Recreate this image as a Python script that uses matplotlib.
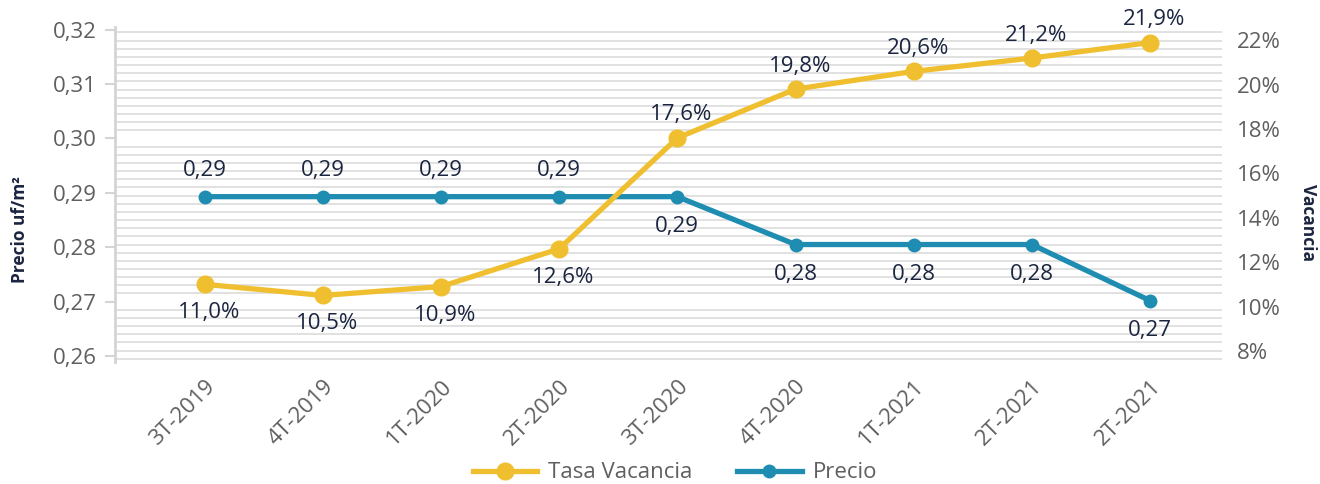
import matplotlib
matplotlib.use("Agg")
import matplotlib.pyplot as plt
from matplotlib.ticker import MultipleLocator, FuncFormatter
from matplotlib.lines import Line2D

categories = ["3T-2019", "4T-2019", "1T-2020", "2T-2020", "3T-2020",
              "4T-2020", "1T-2021", "2T-2021", "2T-2021"]
vacancia = [11.0, 10.5, 10.9, 12.6, 17.6, 19.8, 20.6, 21.2, 21.9]
precio = [0.2893, 0.2893, 0.2893, 0.2893, 0.2893, 0.2805, 0.2805, 0.2805, 0.2702]
left_ticks = [0.26, 0.27, 0.28, 0.29, 0.30, 0.31, 0.32]
right_ticks = [8, 10, 12, 14, 16, 18, 20, 22]

YELLOW = "#F0BF2F"
BLUE = "#1E8DB1"
NAVY = "#1B2540"
GRAY_TXT = "#5f5f5f"
GRID = "#dedede"

plt.rcParams['font.family'] = ['Open Sans', 'DejaVu Sans']

fig = plt.figure(figsize=(13.2, 4.84), dpi=100)
ax = fig.add_axes([115/1320, 1-362/484, (1222-115)/1320, (362-27)/484])
ax2 = ax.twinx()

x = list(range(len(categories)))

ax.set_ylim(0.2589, 0.3205)
ax.set_xlim(-0.76, 8.61)
ax2.set_ylim(7.5, 22.6)

ax.set_yticks(left_ticks)
ax.yaxis.set_major_formatter(FuncFormatter(lambda v, p: f"{v:.2f}".replace(".", ",")))
ax.yaxis.set_minor_locator(MultipleLocator(0.0015))
ax.grid(True, which='minor', axis='y', color=GRID, linewidth=1.3)
ax.grid(False, which='major')
ax.tick_params(axis='y', which='minor', length=0)
ax.tick_params(axis='y', which='major', length=7, width=1.5, color="#d4d4d4",
               labelsize=16, labelcolor=GRAY_TXT, pad=6)
for s in ['top', 'right', 'bottom']:
    ax.spines[s].set_visible(False)
ax.spines['left'].set_color("#d4d4d4")
ax.spines['left'].set_linewidth(2)

ax.set_xticks(x)
ax.set_xticklabels(categories, rotation=45, ha='right', va='top',
                   rotation_mode='anchor', fontsize=16, color=GRAY_TXT)
ax.tick_params(axis='x', length=0, pad=10)

ax2.set_yticks(right_ticks)
ax2.yaxis.set_major_formatter(FuncFormatter(lambda v, p: f"{v:.0f}%"))
ax2.tick_params(axis='y', length=0, labelsize=16, labelcolor=GRAY_TXT, pad=11)
for s in ax2.spines.values():
    s.set_visible(False)

ax.plot(x, precio, color=BLUE, linewidth=3.8, marker='o', markersize=9,
        solid_capstyle='round', zorder=3)
ax2.plot(x, vacancia, color=YELLOW, linewidth=3.8, marker='o', markersize=12,
         solid_capstyle='round', zorder=3)

# Data labels
precio_pos = ['above'] * 4 + ['below'] * 5
for xi, v, pos in zip(x, precio, precio_pos):
    dy = 11 if pos == 'above' else -14
    ax.annotate(f"{v:.2f}".replace(".", ","), (xi, v), xytext=(0, dy),
                textcoords='offset points', ha='center',
                va='bottom' if pos == 'above' else 'top',
                fontsize=16, color=NAVY)

vac_pos = ['below'] * 4 + ['above'] * 5
for xi, v, pos in zip(x, vacancia, vac_pos):
    dy = 9 if pos == 'above' else -13
    ax2.annotate(f"{v:.1f}%".replace(".", ","), (xi, v), xytext=(3, dy),
                 textcoords='offset points', ha='center',
                 va='bottom' if pos == 'above' else 'top',
                 fontsize=16, color=NAVY)

fig.text(20/1320, 1-230/484, "Precio uf/m²", rotation=90, ha='center', va='center',
         fontsize=12.5, fontweight='bold', color=NAVY)
fig.text(1308/1320, 1-222/484, "Vacancia", rotation=-90, ha='center', va='center',
         fontsize=12.5, fontweight='bold', color=NAVY)

handles = [
    Line2D([0], [0], color=YELLOW, linewidth=3.8, marker='o', markersize=12),
    Line2D([0], [0], color=BLUE, linewidth=3.8, marker='o', markersize=9),
]
fig.legend(handles, ["Tasa Vacancia", "Precio"], loc='center',
           bbox_to_anchor=(675/1320, 1-473/484), ncol=2, frameon=False,
           fontsize=16, handlelength=2.9, columnspacing=2.0, handletextpad=0.5,
           labelcolor=GRAY_TXT)

fig.savefig("out.png", dpi=100)
